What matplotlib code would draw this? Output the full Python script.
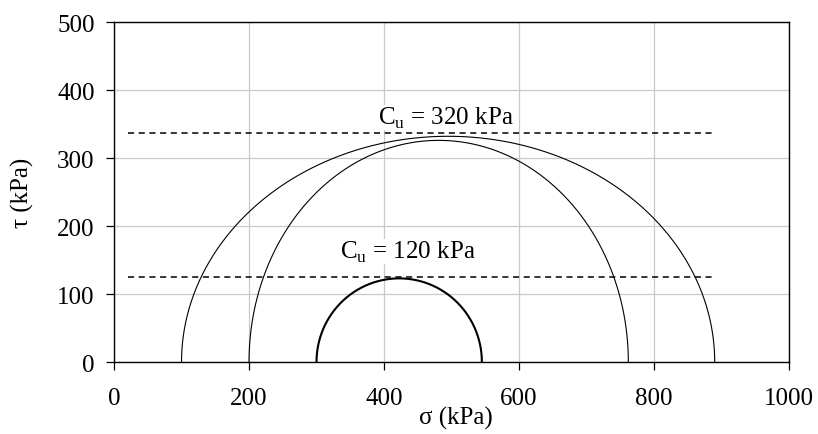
import numpy as np
import matplotlib.pyplot as plt

plt.rcParams['font.family'] = ['Liberation Serif', 'DejaVu Serif']
plt.rcParams['mathtext.fontset'] = 'custom'
plt.rcParams['mathtext.rm'] = 'Liberation Serif'

# Mohr circles: sigma3, sigma1, peak tau (as drawn)
sigma3 = [100, 200, 300]
sigma1 = [890, 762, 545]
tau_top = [332, 326, 123]
widths = [0.8, 0.8, 1.5]

# strength lines
cu_levels = [337, 125]
cu_labels = ['C$_{\\rm u}$ = 320 kPa', 'C$_{\\rm u}$ = 120 kPa']
cu_label_x = [492, 435]
cu_label_y = [360, 162]
cu_x = [21, 890]

fig = plt.figure(figsize=(8.18, 4.35), dpi=100)
ax = fig.add_axes([0.1394, 0.1655, 0.8251, 0.7815])

theta = np.linspace(0, np.pi, 300)
for s3, s1, top, lw in zip(sigma3, sigma1, tau_top, widths):
    c = (s1 + s3) / 2
    r = (s1 - s3) / 2
    ax.plot(c + r * np.cos(theta), top * np.sin(theta), color='black', lw=lw)

for lev in cu_levels:
    ax.plot(cu_x, [lev, lev], color='black', ls=(0, (4, 3)), lw=1.1)

for lab, x, y in zip(cu_labels, cu_label_x, cu_label_y):
    ax.text(x, y, lab, ha='center', va='center', fontsize=18,
            bbox=dict(facecolor='white', edgecolor='none', pad=0.0))

ax.set_xlim(0, 1000)
ax.set_ylim(0, 500)
ax.set_xticks(range(0, 1001, 200))
ax.set_yticks(range(0, 501, 100))
ax.grid(True, color='#c8c8c8', lw=0.9)
ax.set_axisbelow(True)
ax.tick_params(direction='out', length=6, width=0.9, labelsize=18)
ax.tick_params(axis='x', pad=12)
ax.tick_params(axis='y', pad=8)
for sp in ax.spines.values():
    sp.set_linewidth(1.0)
ax.set_xlabel('σ (kPa)', fontsize=18)
ax.set_ylabel('τ (kPa)', fontsize=18)
ax.xaxis.set_label_coords(0.507, -0.128)
ax.yaxis.set_label_coords(-0.118, 0.5)

fig.savefig('out.png', dpi=100)
